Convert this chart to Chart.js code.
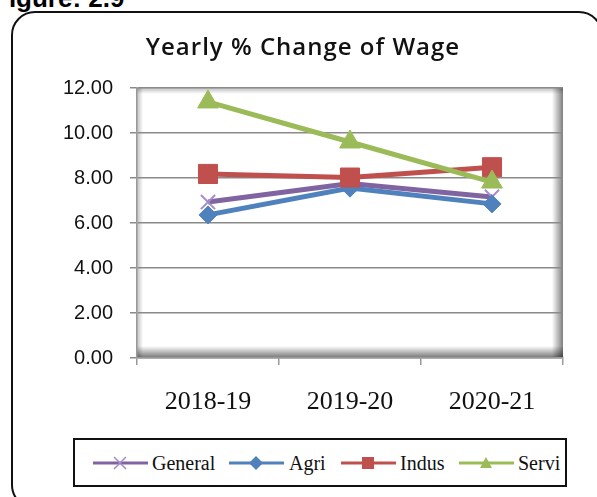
<!DOCTYPE html>
<html><head><meta charset="utf-8">
<script src="https://cdn.jsdelivr.net/npm/chart.js@4/dist/chart.umd.min.js"></script>
<style>
html,body{margin:0;padding:0;background:#fff;}
#wrap{position:relative;width:597px;height:497px;overflow:hidden;background:#fff;}
#fig{position:absolute;left:-7px;top:-15px;font:bold 26px/26px "Liberation Sans",Arial,sans-serif;color:#000;white-space:nowrap;}
#frame{position:absolute;left:11px;top:11px;width:592px;height:498px;border:2.5px solid #111;border-radius:24px;box-sizing:border-box;}
#title{position:absolute;left:0;width:606px;top:29px;text-align:center;font:600 24px "Open Sans",sans-serif;letter-spacing:1px;color:#111;white-space:nowrap;}
#cv{position:absolute;left:0;top:0;}
#legend{position:absolute;left:73px;top:438px;width:494px;height:49px;border:2px solid #111;box-sizing:border-box;font:20px "Liberation Serif","Times New Roman",serif;color:#111;}
.it{position:absolute;top:10px;height:26px;line-height:26px;}
.it svg{position:absolute;top:0;left:0;}
.it span{position:absolute;top:0;white-space:nowrap;}
</style></head>
<body><div id="wrap">
<div id="fig">Figure: 2.9</div>
<div id="frame"></div>
<canvas id="cv" width="597" height="430"></canvas>
<div id="title">Yearly % Change of Wage</div>
<div id="legend"></div>
</div>
<script>
const categories = ["2018-19", "2019-20", "2020-21"];
const seriesNames = ["General", "Agri", "Indus", "Servi"];
const general = [6.93, 7.75, 7.16];
const agri = [6.36, 7.55, 6.85];
const indus = [8.18, 8.02, 8.48];
const servi = [11.38, 9.60, 7.82];
const yTicks = [0, 2, 4, 6, 8, 10, 12];

const colors = ["#8064A2", "#4F81BD", "#C0504D", "#9BBB59"];
const markerColors = ["#A58CCB", "#4F81BD", "#C0504D", "#9BBB59"];
const styles = ["crossRot", "rectRot", "rect", "triangle"];
const radii = [10, 9, 13.5, 12];
const values = [general, agri, indus, servi];

const plotBg = {
  id: 'plotBg',
  beforeDraw(chart) {
    const {ctx, chartArea: a} = chart;
    ctx.save();
    ctx.fillStyle = '#fff';
    ctx.fillRect(a.left, a.top, a.right - a.left, a.bottom - a.top);
    let g = ctx.createLinearGradient(0, a.bottom - 12, 0, a.bottom);
    g.addColorStop(0, 'rgba(0,0,0,0)'); g.addColorStop(1, 'rgba(0,0,0,0.55)');
    ctx.fillStyle = g; ctx.fillRect(a.left, a.bottom - 12, a.right - a.left, 12);
    g = ctx.createLinearGradient(a.right - 11, 0, a.right, 0);
    g.addColorStop(0, 'rgba(0,0,0,0)'); g.addColorStop(1, 'rgba(0,0,0,0.5)');
    ctx.fillStyle = g; ctx.fillRect(a.right - 11, a.top, 11, a.bottom - a.top);
    g = ctx.createLinearGradient(a.left, 0, a.left + 6, 0);
    g.addColorStop(0, 'rgba(0,0,0,0.25)'); g.addColorStop(1, 'rgba(0,0,0,0)');
    ctx.fillStyle = g; ctx.fillRect(a.left, a.top, 6, a.bottom - a.top);
    g = ctx.createLinearGradient(0, a.top, 0, a.top + 6);
    g.addColorStop(0, 'rgba(0,0,0,0.25)'); g.addColorStop(1, 'rgba(0,0,0,0)');
    ctx.fillStyle = g; ctx.fillRect(a.left, a.top, a.right - a.left, 6);
    ctx.restore();
  }
};

new Chart(document.getElementById('cv'), {
  type: 'line',
  data: {
    labels: categories,
    datasets: seriesNames.map((n, i) => ({
      label: n,
      data: values[i],
      borderColor: colors[i],
      backgroundColor: markerColors[i],
      pointBorderColor: markerColors[i],
      pointBackgroundColor: markerColors[i],
      pointStyle: styles[i],
      pointRadius: radii[i],
      pointBorderWidth: i === 0 ? 2 : 1,
      borderWidth: 5,
      tension: 0,
      order: 3 - i
    }))
  },
  options: {
    responsive: false,
    animation: false,
    layout: {padding: {top: 88, right: 34, left: 0, bottom: 0}},
    plugins: {legend: {display: false}, title: {display: false}, tooltip: {enabled: false}},
    scales: {
      x: {
        offset: true,
        grid: {offset: true, drawOnChartArea: false, tickLength: 7, color: '#999', lineWidth: 1.5},
        border: {display: true, color: '#999', width: 1.5},
        ticks: {font: {family: '"Liberation Serif"', size: 26}, color: '#111', padding: 22},
        afterFit(s) { s.height = 72; }
      },
      y: {
        min: 0, max: 12,
        afterBuildTicks(s) { s.ticks = yTicks.map(v => ({value: v})); },
        grid: {color: '#8a8a8a', lineWidth: 1.5, tickLength: 7},
        border: {display: true, color: '#999', width: 1.5},
        ticks: {font: {family: '"Liberation Sans"', size: 20}, color: '#111', padding: 17,
          callback: v => Number(v).toFixed(2)},
        afterFit(s) { s.width = 137; }
      }
    }
  },
  plugins: [plotBg]
});

// legend
const leg = document.getElementById('legend');
const legPos = [[18, 77], [154, 214], [266, 325], [384, 443]];
seriesNames.forEach((n, i) => {
  const d = document.createElement('div');
  d.className = 'it';
  d.style.left = legPos[i][0] + 'px';
  const c = colors[i], m = markerColors[i];
  let mk = '';
  if (i === 0) mk = `<path d="M21 7 L33 19 M33 7 L21 19" stroke="${m}" stroke-width="1.5"/>`;
  if (i === 1) mk = `<path d="M27 6 L34 13 L27 20 L20 13 Z" fill="${m}"/>`;
  if (i === 2) mk = `<rect x="21" y="7" width="12" height="12" fill="${m}"/>`;
  if (i === 3) mk = `<path d="M27 7 L33 18 L21 18 Z" fill="${m}"/>`;
  d.innerHTML = `<svg width="56" height="26"><line x1="0" y1="13" x2="55" y2="13" stroke="${c}" stroke-width="3"/>${mk}</svg><span style="left:${legPos[i][1]-legPos[i][0]}px">${n}</span>`;
  leg.appendChild(d);
});
</script>
</body></html>
